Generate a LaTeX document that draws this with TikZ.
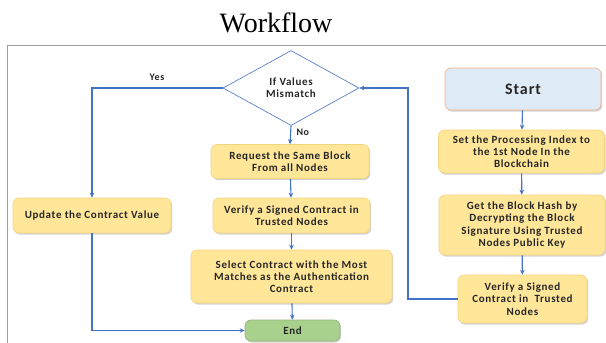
\documentclass[tikz,border=0pt]{standalone}
\usepackage{fontspec}
\setmainfont{Carlito}
\newfontfamily\titlefont{Liberation Serif}
\newfontfamily\boxfont[LetterSpace=6]{Carlito}
\usetikzlibrary{shapes.geometric,arrows.meta,shadows,calc}

\definecolor{flowblue}{HTML}{4472C4}
\definecolor{boxfill}{HTML}{FFE699}
\definecolor{boxline}{HTML}{F2D47E}
\definecolor{startfill}{HTML}{DEEBF7}
\definecolor{startline}{HTML}{F4B183}
\definecolor{endfill}{HTML}{A9D18E}
\definecolor{textdark}{HTML}{262626}

\tikzset{
  stepbox/.style={draw=boxline, fill=boxfill, rounded corners=6pt, line width=0.6pt,
    align=center, font=\boxfont\bfseries\fontsize{11}{12.3}\selectfont, text=textdark,
    inner sep=2pt,
    drop shadow={opacity=0.35, shadow xshift=1.2pt, shadow yshift=-1.6pt}},
  startbox/.style={stepbox, draw=startline, fill=startfill,
    font=\boxfont\bfseries\fontsize{16}{18}\selectfont},
  endbox/.style={stepbox, draw=endfill!85!black, fill=endfill},
  decision/.style={diamond, draw=flowblue, line width=0.6pt, fill=white, inner sep=0pt,
    align=center, font=\boxfont\bfseries\fontsize{11}{12.3}\selectfont, text=textdark},
  flow/.style={draw=flowblue, line width=1.1pt, -{Stealth[length=5pt,width=4.5pt]}},
  edgelabel/.style={font=\boxfont\bfseries\fontsize{10}{11}\selectfont, text=textdark},
}

\begin{document}
\begin{tikzpicture}[x=1pt,y=-1pt]
  \useasboundingbox (0,0) rectangle (606,343);

  % heading and open frame
  \node[font=\titlefont\fontsize{28}{30}\selectfont] (title) at (276,23) {Workflow};
  \draw[gray!75, line width=0.9pt] (7,343) -- (7,45) -- (606,45);

  % decision
  \node[decision, minimum width=136pt, minimum height=75pt] (dec) at (291,88) {If Values\\Mismatch};

  % right column
  \node[startbox, minimum width=156pt, minimum height=42pt] (start) at (523,89) {Start};
  \node[stepbox, minimum width=166pt, minimum height=43pt] (set) at (521.5,151.5)
    {Set the Processing Index to\\the 1st Node In the\\Blockchain};
  \node[stepbox, minimum width=166pt, minimum height=60pt] (get) at (522,225)
    {Get the Block Hash by\\Decrypting the Block\\Signature Using Trusted\\Nodes Public Key};
  \node[stepbox, minimum width=129pt, minimum height=48pt] (ver2) at (522.5,299)
    {Verify a Signed\\Contract in\ \ Trusted\\Nodes};

  % middle column
  \node[stepbox, minimum width=158pt, minimum height=34pt] (req) at (290,161.5)
    {Request the Same Block\\From all Nodes};
  \node[stepbox, minimum width=157pt, minimum height=35pt] (ver1) at (291.5,215.5)
    {Verify a Signed Contract in\\Trusted Nodes};
  \node[stepbox, minimum width=201pt, minimum height=53pt] (sel) at (291.5,276.5)
    {Select Contract with the Most\\Matches as the Authentication\\Contract};
  \node[endbox, minimum width=95pt, minimum height=21pt] (end) at (292.5,330.5) {End};

  % left column
  \node[stepbox, minimum width=158pt, minimum height=35pt] (upd) at (92,215.5)
    {Update the Contract Value};

  % connectors
  \coordinate (back) at (408,299);
  \draw[flow] (start) -- (set);
  \draw[flow] (set) -- (get);
  \draw[flow] (get) -- (ver2);
  \draw[flow] (ver2.west) -- (back) |- (dec.east);

  \draw[flow] (dec.south) -- node[edgelabel, right, pos=0.35, xshift=2pt] (nolab) {No} (req.north);
  \draw[flow] (req) -- (ver1);
  \draw[flow] (ver1) -- (sel);
  \draw[flow] (sel) -- (end);

  \draw[flow] (dec.west) -| (upd.north);
  \node[edgelabel] (yeslab) at (157,77) {Yes};
  \draw[flow] (upd.south) |- (end.west);
\end{tikzpicture}
\end{document}
